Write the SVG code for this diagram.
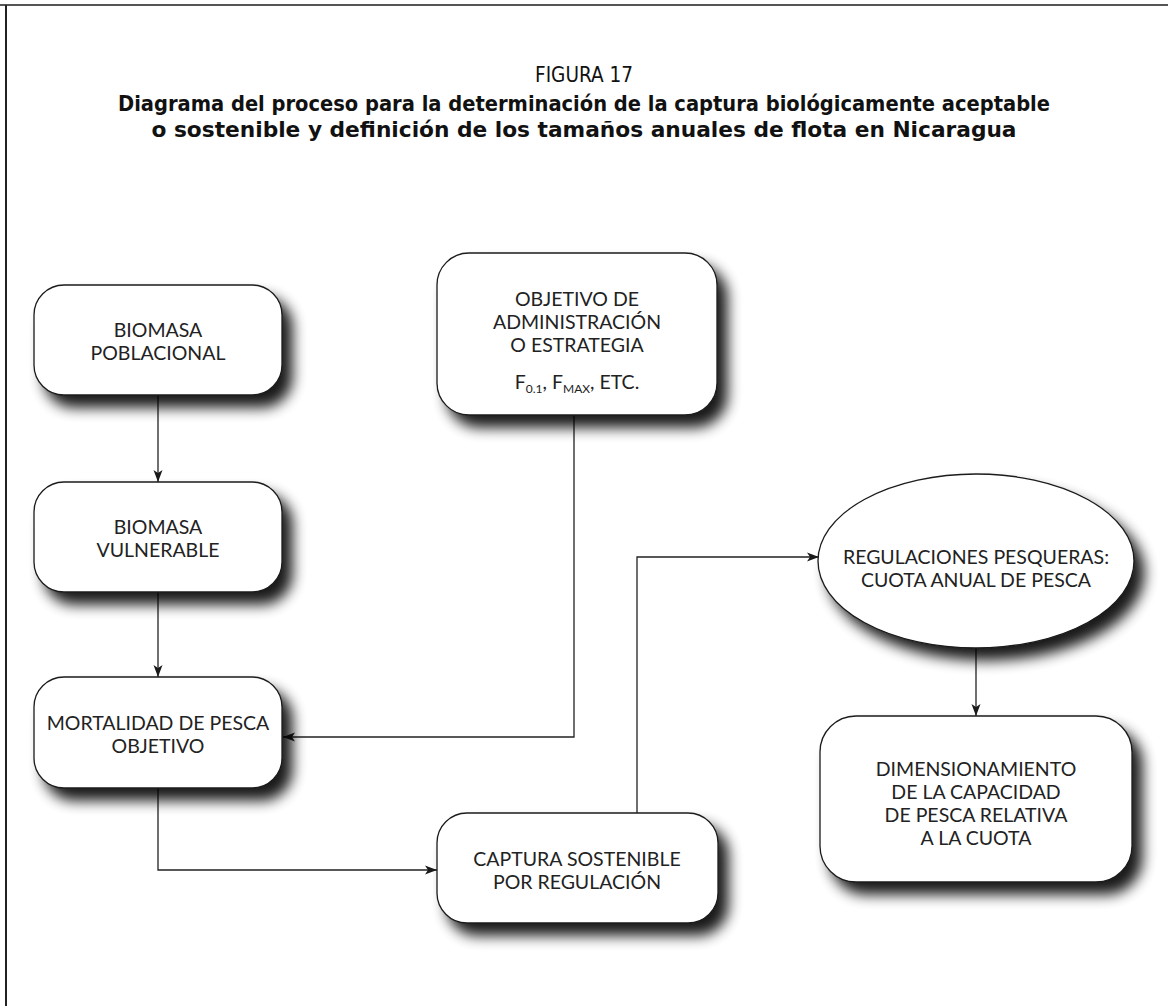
<svg xmlns="http://www.w3.org/2000/svg" width="1168" height="1006" viewBox="0 0 1168 1006">
<defs>
<filter id="sh" x="-20%" y="-20%" width="150%" height="170%">
<feGaussianBlur in="SourceAlpha" stdDeviation="7"/>
<feOffset dx="10" dy="12" result="b"/>
<feComponentTransfer><feFuncA type="linear" slope="0.9"/></feComponentTransfer>
<feMerge><feMergeNode/><feMergeNode in="SourceGraphic"/></feMerge>
</filter>
<marker id="ah" viewBox="0 0 12 10" refX="12" refY="5" markerWidth="12" markerHeight="10" markerUnits="userSpaceOnUse" orient="auto">
<path d="M0,0.5 L12,5 L0,9.5 L3,5 Z" fill="#1a1a1a"/>
</marker>
</defs>
<style>
.box{fill:#fff;stroke:#1a1a1a;stroke-width:1.3}
.t{font-family:Lato,"Open Sans",sans-serif;font-size:19.5px;fill:#222;text-anchor:middle}
.s{font-size:12px}
.c{fill:none;stroke:#222;stroke-width:1.3}
.ti{font-family:"DejaVu Sans Condensed","Liberation Sans Narrow","Liberation Sans",sans-serif;font-size:21px;fill:#111;text-anchor:middle}
.tb{font-weight:bold}
</style>
<rect width="1168" height="1006" fill="#fff"/>
<g id="frame">
<line x1="0" y1="5" x2="1168" y2="5" stroke="#555" stroke-width="2"/>
<line x1="6" y1="5" x2="6" y2="1006" stroke="#222" stroke-width="2"/>
</g>
<g id="title">
<text class="ti" x="584" y="82" textLength="98" lengthAdjust="spacingAndGlyphs">FIGURA 17</text>
<text class="ti tb" x="584" y="111" textLength="932" lengthAdjust="spacingAndGlyphs">Diagrama del proceso para la determinación de la captura biológicamente aceptable</text>
<text class="ti tb" x="584" y="137" textLength="865" lengthAdjust="spacingAndGlyphs">o sostenible y definición de los tamaños anuales de flota en Nicaragua</text>
</g>
<g id="connectors">
<path class="c" d="M158,395 V482" marker-end="url(#ah)"/>
<path class="c" d="M158,592 V677" marker-end="url(#ah)"/>
<path class="c" d="M574,415 V737 H283" marker-end="url(#ah)"/>
<path class="c" d="M158,788 V870 H437" marker-end="url(#ah)"/>
<path class="c" d="M637,813 V557 H819" marker-end="url(#ah)"/>
<path class="c" d="M976,648 V716" marker-end="url(#ah)"/>
</g>
<g id="n1">
<rect class="box" x="34" y="285" width="248" height="110" rx="30" filter="url(#sh)"/>
<text class="t" x="158" y="337">BIOMASA</text>
<text class="t" x="158" y="360">POBLACIONAL</text>
</g>
<g id="n2">
<rect class="box" x="34" y="482" width="248" height="110" rx="30" filter="url(#sh)"/>
<text class="t" x="158" y="534">BIOMASA</text>
<text class="t" x="158" y="557">VULNERABLE</text>
</g>
<g id="n3">
<rect class="box" x="34" y="677" width="248" height="111" rx="30" filter="url(#sh)"/>
<text class="t" x="158" y="730">MORTALIDAD DE PESCA</text>
<text class="t" x="158" y="753">OBJETIVO</text>
</g>
<g id="n4">
<rect class="box" x="437" y="253" width="280" height="162" rx="32" filter="url(#sh)"/>
<text class="t" x="577" y="306">OBJETIVO DE</text>
<text class="t" x="577" y="329">ADMINISTRACIÓN</text>
<text class="t" x="577" y="352">O ESTRATEGIA</text>
<text class="t" x="577" y="389">F<tspan class="s" dy="4">0.1</tspan><tspan dy="-4">, F</tspan><tspan class="s" dy="4">MAX</tspan><tspan dy="-4">, ETC.</tspan></text>
</g>
<g id="n5">
<ellipse class="box" cx="976" cy="561" rx="158" ry="87" filter="url(#sh)"/>
<text class="t" x="976" y="564">REGULACIONES PESQUERAS:</text>
<text class="t" x="976" y="587">CUOTA ANUAL DE PESCA</text>
</g>
<g id="n6">
<rect class="box" x="820" y="716" width="312" height="166" rx="36" filter="url(#sh)"/>
<text class="t" x="976" y="776">DIMENSIONAMIENTO</text>
<text class="t" x="976" y="799">DE LA CAPACIDAD</text>
<text class="t" x="976" y="822">DE PESCA RELATIVA</text>
<text class="t" x="976" y="845">A LA CUOTA</text>
</g>
<g id="n7">
<rect class="box" x="437" y="813" width="281" height="110" rx="30" filter="url(#sh)"/>
<text class="t" x="577" y="866">CAPTURA SOSTENIBLE</text>
<text class="t" x="577" y="889">POR REGULACIÓN</text>
</g>
</svg>
